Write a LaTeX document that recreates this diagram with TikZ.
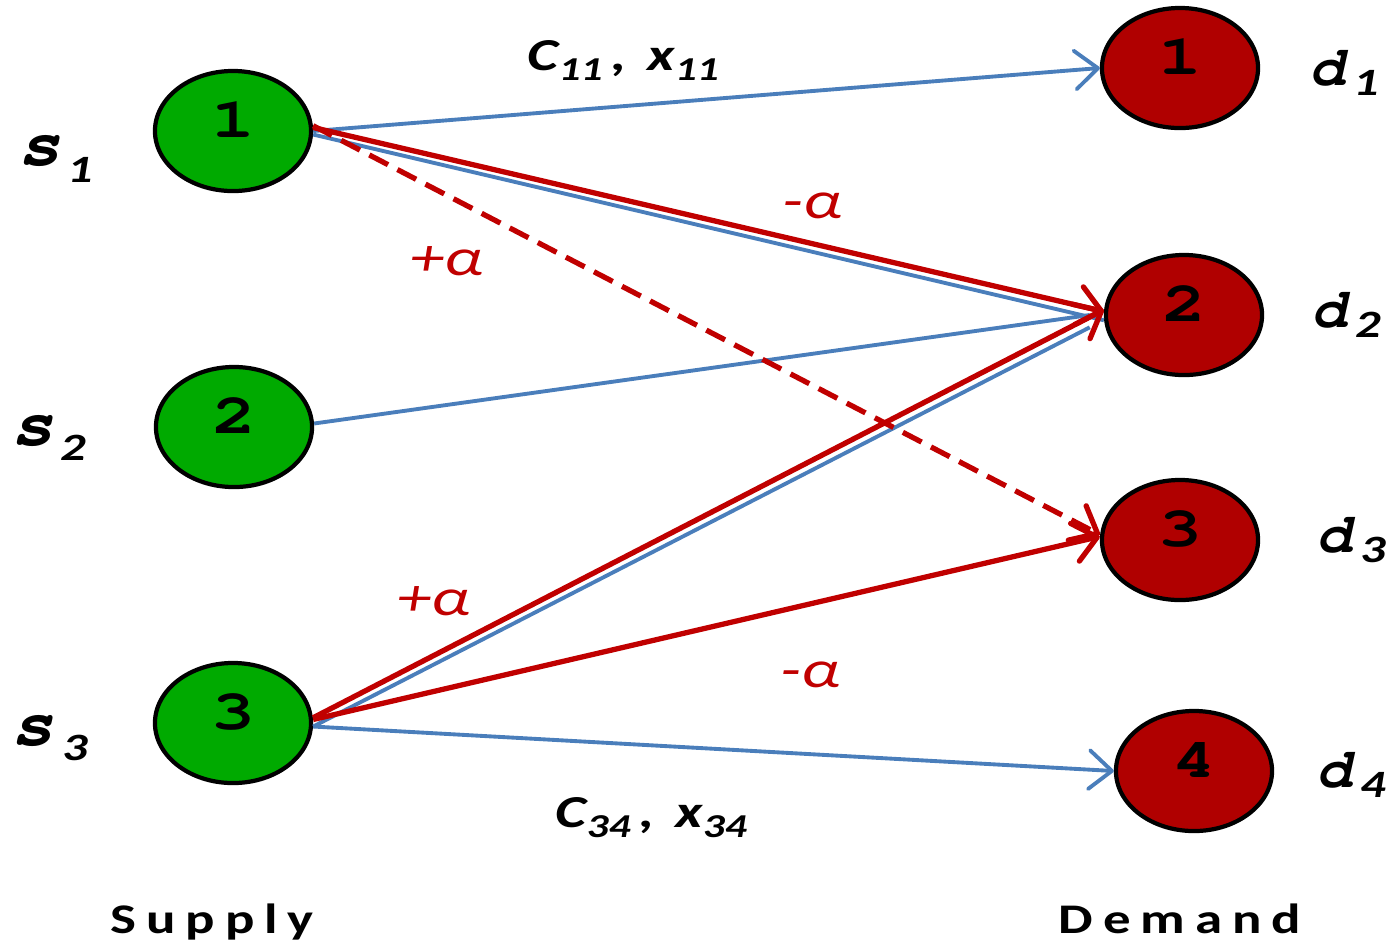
\documentclass[tikz,border=0pt]{standalone}
\usepackage[T1]{fontenc}
\usepackage{fontspec}
\usepackage{graphicx}
\setmainfont{Carlito}
\newfontfamily\spacedfam{Carlito}[LetterSpace=18]
\usetikzlibrary{arrows.meta,shapes.geometric}
\definecolor{sgreen}{RGB}{0,170,0}
\definecolor{dred}{RGB}{176,0,0}
\definecolor{ared}{RGB}{192,0,0}
\definecolor{ablue}{RGB}{74,126,187}
\newcommand\courb[2]{\fontencoding{T1}\fontfamily{pcr}\fontseries{b}\fontshape{#2}\fontsize{#1}{#1}\selectfont}
\newcommand\wide[1]{\scalebox{1.3}[1]{#1}}
% letter size, letter, subscript, lowering, gap
\newcommand\vlab[5]{\scalebox{1.05}[1]{\courb{#1}{sl}#2}\hspace{#5}\raisebox{-#4}{\wide{\bfseries\itshape\fontsize{11}{11}\selectfont #3}}}
\newcommand\clab[3]{\wide{{\bfseries\itshape\fontsize{13}{13}\selectfont C}\raisebox{-3pt}{\bfseries\itshape\fontsize{9.5}{9.5}\selectfont #2}\hspace{2pt}{\bfseries\itshape\fontsize{13}{13}\selectfont ,\hspace{4.5pt}x}\raisebox{-3pt}{\bfseries\itshape\fontsize{9.5}{9.5}\selectfont #3}}}
\tikzset{
  snode/.style={ellipse, draw=black, line width=1.2pt, fill=sgreen, minimum width=1.56cm, minimum height=1.2cm, inner sep=0pt, text depth=6.5pt, font=\courb{16}{n}},
  dnode/.style={snode, fill=dred},
  tip/.style={-{Straight Barb[length=6.5pt,width=11pt,line cap=round,line join=round]}},
  blueline/.style={draw=ablue, line width=1.1pt},
  bluearrow/.style={blueline, tip},
  redarrow/.style={draw=ared, line width=1.5pt, tip},
  reddash/.style={redarrow, dash pattern=on 6pt off 3pt},
  alab/.style={anchor=base west, inner sep=0pt, text=ared, font=\itshape\fontsize{15}{15}\selectfont},
  vl/.style={anchor=base west, inner sep=0pt},
  foot/.style={anchor=base west, inner sep=0pt, font=\spacedfam\bfseries\fontsize{12}{12}\selectfont}
}
\begin{document}
\begin{tikzpicture}[x=0.01cm,y=-0.01cm]
\useasboundingbox (0,0) rectangle (1387,947);
% supply nodes
\node[snode] (s1) at (233,131) {\wide{1}};
\node[snode] (s2) at (234,427) {\wide{2}};
\node[snode] (s3) at (233,723) {\wide{3}};
% demand nodes
\node[dnode] (d1) at (1180,68) {\wide{1}};
\node[dnode] (d2) at (1184,315) {\wide{2}};
\node[dnode] (d3) at (1180,540) {\wide{3}};
\node[dnode] (d4) at (1194,771) {\wide{4}};
% blue arcs
\draw[bluearrow] (s1.east) -- (d1.west);
\draw[blueline] ([yshift=-1pt]s1.east) -- ([yshift=-1.5pt]d2.west);
\draw[blueline] ([yshift=1pt]s2.east) -- ([xshift=-4pt]d2.west);
\draw[blueline] ([yshift=-1pt]s3.east) -- ([xshift=-4pt,yshift=-3.5pt]d2.west);
\draw[bluearrow] ([yshift=-1pt]s3.east) -- (d4.west);
% red arcs
\draw[redarrow] ([yshift=1pt]s1.east) -- ([yshift=1pt]d2.west);
\draw[reddash] ([yshift=1.5pt]s1.east) -- ([yshift=1.5pt]d3.west);
\draw[redarrow] ([yshift=1.5pt]s3.east) -- ([yshift=1.5pt]d2.west);
\draw[redarrow] ([yshift=1pt]s3.east) -- ([yshift=1pt]d3.west);
% labels
\node[vl] (ls1) at (18,165) {\vlab{19}{s}{1}{5pt}{2pt}};
\node[vl] (ls2) at (11,445) {\vlab{19}{s}{2}{4.3pt}{2pt}};
\node[vl] (ls3) at (11,745) {\vlab{19}{s}{3}{4.3pt}{2.5pt}};
\node[vl] (ld1) at (1309,85) {\vlab{16}{d}{1}{3pt}{2.5pt}};
\node[vl] (ld2) at (1311,327) {\vlab{16}{d}{2}{3pt}{2.5pt}};
\node[vl] (ld3) at (1316,552) {\vlab{16}{d}{3}{3pt}{2.5pt}};
\node[vl] (ld4) at (1316,787) {\vlab{16}{d}{4}{3pt}{2.5pt}};
\node[vl] (c11) at (527,70) {\clab{C}{11}{11}};
\node[vl] (c34) at (555,827) {\clab{C}{34}{34}};
\node[alab] (a1) at (410,275) {\wide{+α}};
\node[alab] (a2) at (782,218) {\wide{-α}};
\node[alab] (a3) at (397,615) {\wide{+α}};
\node[alab] (a4) at (780,687) {\wide{-α}};
\node[foot] (sup) at (110,933) {\wide{Supply}};
\node[foot] (dem) at (1058,933) {\wide{Demand}};
\end{tikzpicture}
\end{document}
